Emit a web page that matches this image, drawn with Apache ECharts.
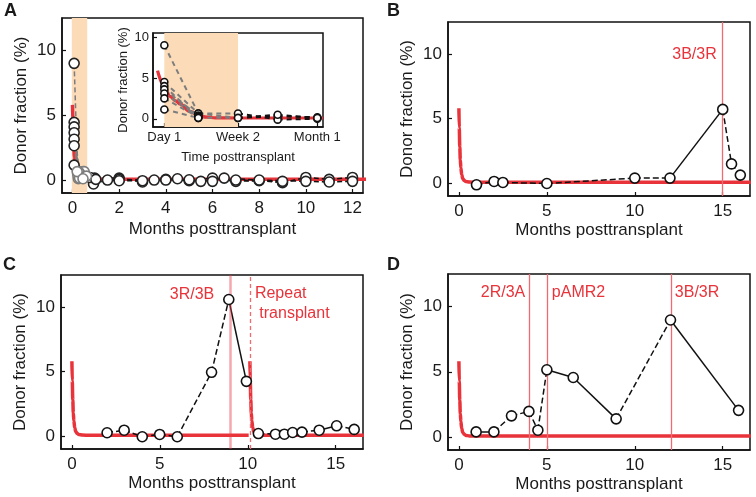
<!DOCTYPE html>
<html><head><meta charset="utf-8">
<script src="https://cdn.jsdelivr.net/npm/echarts@6/dist/echarts.min.js"></script>
<style>html,body{margin:0;padding:0;background:#fff}#c{width:756px;height:497px}</style>
</head><body><div id="c"></div>
<script>
// ================= DATA =================
const yTicks = [0, 5, 10];
const aTicksX = [0, 2, 4, 6, 8, 10, 12];
const bcdTicksX = [0, 5, 10, 15];
const insetTickDays = [1, 14, 28];
const insetTickLabels = ['Day 1', 'Week 2', 'Month 1'];

// expected (model) donor fraction curve
const modelMonths = [0, 0.02, 0.05, 0.08, 0.11, 0.16, 0.22, 0.3, 0.4, 0.6, 1.0, 16.6];
const modelValues = [5.8, 4.3, 2.8, 1.8, 1.2, 0.65, 0.35, 0.2, 0.12, 0.08, 0.07, 0.07];
const cModel1Months = [0, 0.02, 0.05, 0.08, 0.11, 0.16, 0.22, 0.3, 0.4, 0.6, 1.0, 10.05];
const cModel2Months = [10.12, 10.14, 10.17, 10.2, 10.23, 10.28, 10.34, 10.42, 10.52, 10.72, 11.1, 16.6];
const insetModelDays = [-0.2, 1, 2, 3, 3.8, 5.5, 7, 8.5, 10, 14, 29];
const insetModelValues = [5.9, 4.0, 2.75, 2.2, 1.8, 0.9, 0.4, 0.2, 0.12, 0.1, 0.1];

// shaded early window
const aShadeMonths = [-0.03, 0.63];
const insetShadeDays = [1, 14];

// Panel A patients (months, donor fraction %)
const aPatients = [
  [[0.07, 9.0], [0.22, 0.7], [0.45, 0.65], [0.95, 0.15], [2, 0.15], [3, -0.15], [4, 0.05], [5, -0.05], [6, 0.15], [7, -0.1], [8, -0.05], [9, -0.2], [10, 0.2], [11, 0.05], [12, 0.2]],
  [[0.07, 4.45], [0.25, 0.1], [0.5, 0.65], [0.9, -0.3], [1.5, 0.0], [2, 0.05], [3.5, 0.0], [4.5, 0.1], [5.5, -0.1], [6.5, 0.15], [8, 0.0], [10, -0.1], [11, -0.15], [12, -0.1]],
  [[0.07, 4.1], [0.3, 0.55], [0.75, 0.2], [1, 0.05], [2, -0.05], [3, -0.05], [4, 0.0], [5, 0.02], [6, -0.1], [7, 0.0], [9, -0.1]],
  [[0.07, 3.65], [0.27, 0.6], [0.6, 0.3]],
  [[0.07, 3.15], [0.23, 0.35]],
  [[0.07, 2.65], [0.3, 0.15]],
  [[0.07, 1.15], [0.2, 0.65], [0.45, 0.1]]
];

// Inset patients (days, donor fraction %)
const insetPatients = [
  [[1, 9.0], [7, 0.66], [14, 0.12], [21, 0.3], [28, 0.2]],
  [[1, 4.5], [7, 0.66], [14, 0.66], [21, -0.1], [28, 0.0]],
  [[1, 4.0], [7, 0.12], [14, 0.12], [21, 0.5], [28, 0.1]],
  [[1, 3.6], [7, 0.4]],
  [[1, 3.1], [7, 0.3]],
  [[1, 2.5], [7, 0.2]],
  [[1, 1.15], [7, 0.12]]
];

// Panel B
const bMonths = [1, 2, 2.5, 5, 10, 12, 15, 15.5, 16];
const bValues = [-0.13, 0.13, 0.05, -0.03, 0.39, 0.39, 5.72, 1.49, 0.62];
const bSegments = ['d', 'd', 'd', 'd', 'd', 's', 'd', 'd'];
const bEvents = [{ x: 15, label: '3B/3R' }];

// Panel C
const cMonths = [2, 2.97, 4, 4.99, 5.99, 7.94, 8.92, 9.92, 10.6, 11.57, 12.08, 12.55, 13.08, 14.06, 15.05, 16.05];
const cValues = [0.26, 0.46, -0.05, 0.13, -0.05, 4.95, 10.6, 4.25, 0.2, 0.15, 0.15, 0.28, 0.31, 0.46, 0.8, 0.52];
const cSegments = ['d', 'd', 'd', 'd', 'd', 'd', 's', 'n', 'd', 'd', 'd', 'd', 'd', 's', 'd'];
const cEvents = [{ x: 9.0, label: '3R/3B' }, { x: 10.12, label: 'Repeat\n transplant' }];

// Panel D
const dMonths = [0.98, 1.99, 2.99, 3.98, 4.49, 5.0, 6.5, 8.94, 12.03, 15.9];
const dValues = [0.39, 0.39, 1.62, 1.96, 0.52, 5.15, 4.56, 1.39, 8.97, 2.04];
const dSegments = ['s', 'd', 'd', 'd', 'd', 's', 's', 'd', 's'];
const dEvents = [{ x: 4.0, label: '2R/3A' }, { x: 5.0, label: 'pAMR2' }, { x: 12.05, label: '3B/3R' }];

// ================= STYLE / BUILD =================
const FONT = 'Liberation Sans, Arial, Helvetica, sans-serif';
const TXT = '#1a1a1a';
const RED = '#e8333a';
const VLINE = '#f06a72';
const GREY = '#7d7d7d';
const SHADE = '#fbdbb8';

const zip = (xs, ys) => xs.map((x, i) => [x, ys[i]]);

function xAx(gi, min, max, ticks, name, nameGap, fs, labels) {
  return {
    gridIndex: gi, type: 'value', min, max, name, nameLocation: 'middle', nameGap,
    nameTextStyle: { fontSize: fs, color: TXT, fontFamily: FONT },
    axisLine: { onZero: false, lineStyle: { color: '#111', width: 1.5 } },
    axisTick: { inside: true, length: 4, customValues: ticks, lineStyle: { color: '#111', width: 1.2 } },
    axisLabel: {
      customValues: ticks, fontSize: fs, color: TXT, fontFamily: FONT, margin: fs > 14 ? 7 : 4,
      formatter: labels ? (v) => labels[ticks.indexOf(v)] || '' : (v) => String(v)
    },
    splitLine: { show: false }
  };
}
function yAx(gi, min, max, nameGap, fs) {
  return {
    gridIndex: gi, type: 'value', min, max, name: 'Donor fraction (%)', nameLocation: 'middle', nameGap,
    nameTextStyle: { fontSize: fs, color: TXT, fontFamily: FONT },
    axisLine: { onZero: false, lineStyle: { color: '#111', width: 1.5 } },
    axisTick: { inside: true, length: 4, customValues: yTicks, lineStyle: { color: '#111', width: 1.2 } },
    axisLabel: { customValues: yTicks, fontSize: fs, color: TXT, fontFamily: FONT, margin: fs > 14 ? 6 : 4 },
    splitLine: { show: false }
  };
}

const series = [];

function redCurve(ai, xs, ys, width) {
  series.push({
    type: 'line', xAxisIndex: ai, yAxisIndex: ai, data: zip(xs, ys), showSymbol: false,
    smooth: 0.4, smoothMonotone: 'x', lineStyle: { color: RED, width: width }, z: 2, silent: true
  });
}
function shade(ai, range) {
  series.push({
    type: 'line', xAxisIndex: ai, yAxisIndex: ai, data: [], silent: true, z: 1,
    markArea: { silent: true, itemStyle: { color: SHADE, opacity: 1 }, data: [[{ xAxis: range[0] }, { xAxis: range[1] }]] }
  });
}
function segLines(ai, pts, segs, colorFn, width, dash) {
  for (let i = 0; i < pts.length - 1; i++) {
    const t = segs ? segs[i] : 'd';
    if (t === 'n') continue;
    series.push({
      type: 'line', xAxisIndex: ai, yAxisIndex: ai, data: [pts[i], pts[i + 1]], showSymbol: false, silent: true, z: 3,
      lineStyle: { color: colorFn(pts[i], pts[i + 1]), width: width, type: t === 's' ? 'solid' : dash }
    });
  }
}
function markers(ai, pts, size, borderFn) {
  series.push({
    type: 'scatter', xAxisIndex: ai, yAxisIndex: ai, silent: true, z: 5, symbol: 'circle', symbolSize: size,
    itemStyle: { opacity: 1 },
    data: pts.map(p => ({ value: p, itemStyle: { color: '#fff', opacity: 1, borderColor: borderFn(p), borderWidth: 1.6 } }))
  });
}
function events(ai, evs, styles) {
  evs.forEach((e, i) => {
    const st = styles[i];
    series.push({
      type: 'line', xAxisIndex: ai, yAxisIndex: ai, data: [], silent: true, z: 1,
      markLine: {
        silent: true, symbol: 'none', label: { show: false },
        lineStyle: { color: st.color || VLINE, width: st.width || 1.3, type: st.type || 'solid', opacity: 1 },
        data: [{ xAxis: e.x }]
      }
    });
    series.push({
      type: 'scatter', xAxisIndex: ai, yAxisIndex: ai, silent: true, z: 6, symbolSize: 0,
      itemStyle: { opacity: 1 },
      data: [{ value: [e.x, st.y], name: e.label }],
      label: {
        show: true, position: st.side, distance: st.gap, formatter: '{b}', opacity: 1,
        color: RED, fontSize: 16, fontFamily: FONT, lineHeight: 20, align: st.side === 'left' ? 'right' : 'left'
      }
    });
  });
}

// --- Panel A (axis index 0)
shade(0, aShadeMonths);
redCurve(0, modelMonths, modelValues, 3.5);
const early = (p) => p[0] < aShadeMonths[1];
const mid = (p) => p[0] > 0.1 && p[0] < aShadeMonths[1];
aPatients.forEach(pts => segLines(0, pts, null, (a, b) => (early(a) && early(b)) ? GREY : '#111', 1.5, [5, 3]));
aPatients.forEach(pts => markers(0, pts, 10, p => mid(p) ? GREY : '#222'));

// --- Inset (axis index 1)
shade(1, insetShadeDays);
redCurve(1, insetModelDays, insetModelValues, 3.2);
insetPatients.forEach(pts => segLines(1, pts, null, (a, b) => b[0] <= 14 ? GREY : '#111', 2, [5, 4]));
insetPatients.forEach(pts => markers(1, pts, 7, p => '#111'));

// --- Panel B (2)
redCurve(2, modelMonths, modelValues, 3.5);
events(2, bEvents, [{ y: 10, side: 'left', gap: 6 }]);
const bPts = zip(bMonths, bValues);
segLines(2, bPts, bSegments, () => '#111', 1.5, [6, 3]);
markers(2, bPts, 10, () => '#111');

// --- Panel C (3)
redCurve(3, cModel1Months, modelValues, 3.5);
redCurve(3, cModel2Months, modelValues, 3.5);
events(3, cEvents, [
  { y: 11, side: 'left', gap: 16, color: 'rgba(232,60,70,0.45)', width: 2.5 },
  { y: 10.25, side: 'right', gap: 5, type: [4, 3], width: 1.3 }
]);
const cPts = zip(cMonths, cValues);
segLines(3, cPts, cSegments, () => '#111', 1.5, [6, 3]);
markers(3, cPts, 10, () => '#111');

// --- Panel D (4)
redCurve(4, modelMonths, modelValues, 3.5);
events(4, dEvents, [
  { y: 11.05, side: 'left', gap: 4 },
  { y: 11.05, side: 'right', gap: 5 },
  { y: 11.05, side: 'right', gap: 4 }
]);
const dPts = zip(dMonths, dValues);
segLines(4, dPts, dSegments, () => '#111', 1.5, [6, 3]);
markers(4, dPts, 10, () => '#111');

const gridBase = { show: true, borderColor: '#111', borderWidth: 1.5, containLabel: false };
const option = {
  animation: false,
  backgroundColor: '#fff',
  textStyle: { fontFamily: FONT },
  grid: [
    Object.assign({ left: 62, top: 18, width: 301, height: 175, backgroundColor: 'transparent' }, gridBase),
    Object.assign({ left: 153, top: 33, width: 170, height: 94, backgroundColor: '#fff' }, gridBase),
    Object.assign({ left: 448, top: 22, width: 302, height: 174, backgroundColor: 'transparent' }, gridBase),
    Object.assign({ left: 61, top: 275, width: 302, height: 174, backgroundColor: 'transparent' }, gridBase),
    Object.assign({ left: 448, top: 274, width: 302, height: 176, backgroundColor: 'transparent' }, gridBase)
  ],
  xAxis: [
    xAx(0, -0.45, 12.45, aTicksX, 'Months posttransplant', 28, 17),
    xAx(1, -1, 29, insetTickDays, 'Time posttransplant', 24, 13, insetTickLabels),
    xAx(2, -0.62, 16.55, bcdTicksX, 'Months posttransplant', 26, 17),
    xAx(3, -0.62, 16.55, bcdTicksX, 'Months posttransplant', 26, 17),
    xAx(4, -0.62, 16.55, bcdTicksX, 'Months posttransplant', 26, 17)
  ],
  yAxis: [
    yAx(0, -1, 12.5, 32, 17),
    yAx(1, -1, 10.5, 23, 13),
    yAx(2, -1, 12.5, 32, 17),
    yAx(3, -1, 12.5, 32, 17),
    yAx(4, -1, 12.5, 32, 17)
  ],
  graphic: [
    { type: 'text', left: 4, top: 2, style: { text: 'A', fontSize: 18, fontWeight: 'bold', fill: TXT, fontFamily: FONT } },
    { type: 'text', left: 387, top: 2, style: { text: 'B', fontSize: 18, fontWeight: 'bold', fill: TXT, fontFamily: FONT } },
    { type: 'text', left: 3, top: 256, style: { text: 'C', fontSize: 18, fontWeight: 'bold', fill: TXT, fontFamily: FONT } },
    { type: 'text', left: 387, top: 256, style: { text: 'D', fontSize: 18, fontWeight: 'bold', fill: TXT, fontFamily: FONT } }
  ],
  series
};
const chart = echarts.init(document.getElementById('c'), null, { renderer: 'canvas' });
chart.setOption(option);
</script>
</body></html>
